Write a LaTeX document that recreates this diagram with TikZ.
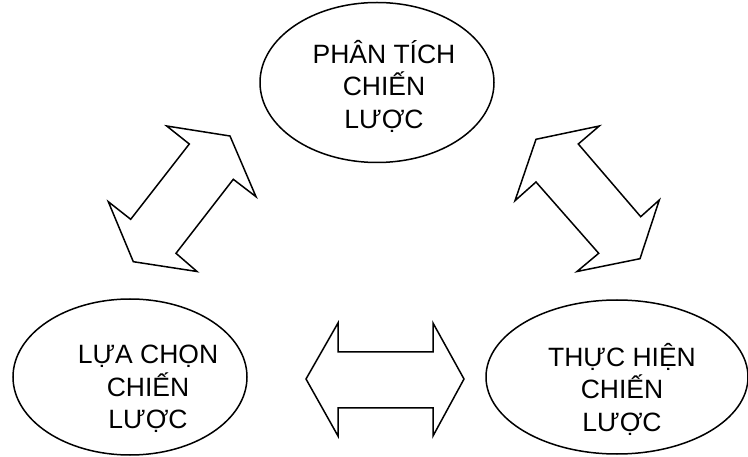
\documentclass[tikz,border=0pt]{standalone}
\usepackage{fontspec}
\setmainfont{Liberation Sans}
\usetikzlibrary{shapes.geometric}
\begin{document}
\begin{tikzpicture}[x=1pt,y=-1pt,line width=1.5pt,
  stage/.style={draw,ellipse,inner sep=0pt,outer sep=0pt},
  caption/.style={align=center,inner sep=0pt,font=\fontsize{26.5}{32.5}\selectfont},
  blockarrow/.style={draw,line join=miter,fill=white}]
\useasboundingbox (0,0) rectangle (748,457);

% three stages of the strategy cycle
\node[stage,minimum width=234pt,minimum height=160pt] (analysis) at (377,82.5) {};
\node[stage,minimum width=234pt,minimum height=156pt] (choice) at (130,377) {};
\node[stage,minimum width=262pt,minimum height=154pt] (execution) at (617,377) {};

\node[caption] (analysisText) at (384,86) {PHÂN TÍCH\\CHIẾN\\LƯỢC};
\node[caption] (choiceText) at (148,389) {LỰA CHỌN\\CHIẾN\\LƯỢC};
\node[caption] (executionText) at (622,389) {THỰC HIỆN\\CHIẾN\\LƯỢC};

% two-headed block arrows between the stages
\draw[blockarrow] (166.7,126) -- (230,136) -- (256,196.7) -- (233.3,179.3)
  -- (176,253.3) -- (197,271.5) -- (133.3,261.7) -- (108.3,201.7)
  -- (130.7,219.3) -- (189.3,144) -- cycle;
\draw[blockarrow] (599.3,126) -- (536,139.3) -- (515,200.7) -- (536,182)
  -- (598.7,253.3) -- (577,271.5) -- (640,258.7) -- (659.3,200)
  -- (640.7,216.7) -- (578.3,144) -- cycle;
\draw[blockarrow] (306,379) -- (338,323) -- (338,352) -- (433,352)
  -- (433,323) -- (464,379) -- (433,436) -- (433,408) -- (338,408)
  -- (338,436) -- cycle;
\end{tikzpicture}
\end{document}
